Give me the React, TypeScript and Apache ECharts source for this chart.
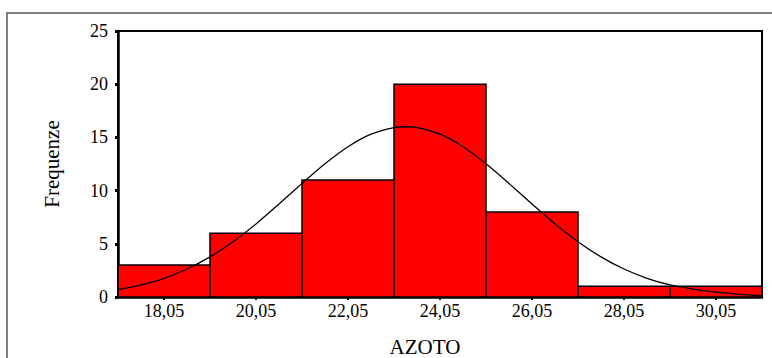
import React, { useEffect, useRef } from "react";
import * as echarts from "echarts";

const binStarts = [17.05, 19.05, 21.05, 23.05, 25.05, 27.05, 29.05];
const binWidth = 2;
const counts = [3, 6, 11, 20, 8, 1, 1];
const tickValues = [18.05, 20.05, 22.05, 24.05, 26.05, 28.05, 30.05];
const yTicks = [0, 5, 10, 15, 20, 25];
const curveX = [17.05, 17.55, 18.05, 18.55, 19.05, 19.55, 20.05, 20.55, 21.05, 21.55, 22.05, 22.55, 23.05, 23.3, 23.55, 24.05, 24.55, 25.05, 25.55, 26.05, 26.55, 27.05, 27.55, 28.05, 28.55, 29.05, 29.55, 30.05, 30.55, 31.05];
const curveY = [0.7, 1.14, 1.76, 2.63, 3.77, 5.2, 6.87, 8.74, 10.67, 12.52, 14.12, 15.3, 15.92, 16.0, 15.92, 15.3, 14.12, 12.52, 10.67, 8.74, 6.87, 5.2, 3.77, 2.63, 1.76, 1.14, 0.75, 0.45, 0.25, 0.13];

export default function App() {
  const ref = useRef<HTMLDivElement>(null);
  useEffect(() => {
    if (!ref.current) return;
    const chart = echarts.init(ref.current, null, { renderer: "svg" });
    const font = "Liberation Serif, Times New Roman, DejaVu Serif, serif";
    const barData = binStarts.map((s, i) => [s, s + binWidth, counts[i]]);
    chart.setOption({
      animation: false,
      backgroundColor: "#ffffff",
      textStyle: { fontFamily: font },
      graphic: [
        {
          type: "rect",
          shape: { x: 7, y: 13, width: 820, height: 400 },
          style: { fill: "none", stroke: "#808080", lineWidth: 2 },
          silent: true,
          z: -10,
        },
      ],
      grid: {
        left: 118,
        top: 31,
        width: 644,
        height: 266,
        show: true,
        borderColor: "#000",
        borderWidth: 2,
        backgroundColor: "transparent",
        containLabel: false,
        outerBoundsMode: "none",
      },
      xAxis: {
        type: "value",
        min: 17.05,
        max: 31.05,
        name: "AZOTO",
        nameLocation: "middle",
        nameGap: 39,
        nameTextStyle: { fontFamily: font, fontSize: 21, color: "#000", padding: [0, 30, 0, 0] },
        axisLine: { show: true, lineStyle: { color: "#000", width: 2.5 } },
        axisTick: { show: true, length: 3, customValues: tickValues, lineStyle: { color: "#000", width: 2 } },
        axisLabel: {
          customValues: tickValues,
          fontFamily: font,
          fontSize: 18,
          color: "#000",
          margin: 5,
          formatter: (v: number) => v.toFixed(2).replace(".", ","),
        },
        splitLine: { show: false },
      },
      yAxis: {
        type: "value",
        min: 0,
        max: 25,
        interval: 5,
        name: "Frequenze",
        nameLocation: "middle",
        nameGap: 56,
        nameTextStyle: { fontFamily: font, fontSize: 21, color: "#000" },
        axisLine: { show: true, lineStyle: { color: "#000", width: 2.5 } },
        axisTick: { show: true, length: 3, lineStyle: { color: "#000", width: 3 } },
        axisLabel: {
          customValues: yTicks,
          fontFamily: font,
          fontSize: 18,
          color: "#000",
          margin: 10,
        },
        splitLine: { show: false },
      },
      series: [
        {
          type: "custom",
          data: barData,
          encode: { x: [0, 1], y: 2 },
          renderItem: (params: any, api: any) => {
            const x0 = api.value(0);
            const x1 = api.value(1);
            const c = api.value(2);
            const p0 = api.coord([x0, c]);
            const p1 = api.coord([x1, 0]);
            return {
              type: "rect",
              shape: { x: p0[0], y: p0[1], width: p1[0] - p0[0], height: p1[1] - p0[1] },
              style: { fill: "#ff0000", stroke: "#000", lineWidth: 1.5 },
            };
          },
          z: 2,
        },
        {
          type: "line",
          data: curveX.map((x, i) => [x, curveY[i]]),
          smooth: 0.3,
          showSymbol: false,
          lineStyle: { color: "#000", width: 1.3 },
          z: 3,
        },
      ],
    });
    return () => chart.dispose();
  }, []);
  return (
    <div
      ref={ref}
      style={{ position: "absolute", left: 0, top: 0, width: 772, height: 358 }}
    />
  );
}
